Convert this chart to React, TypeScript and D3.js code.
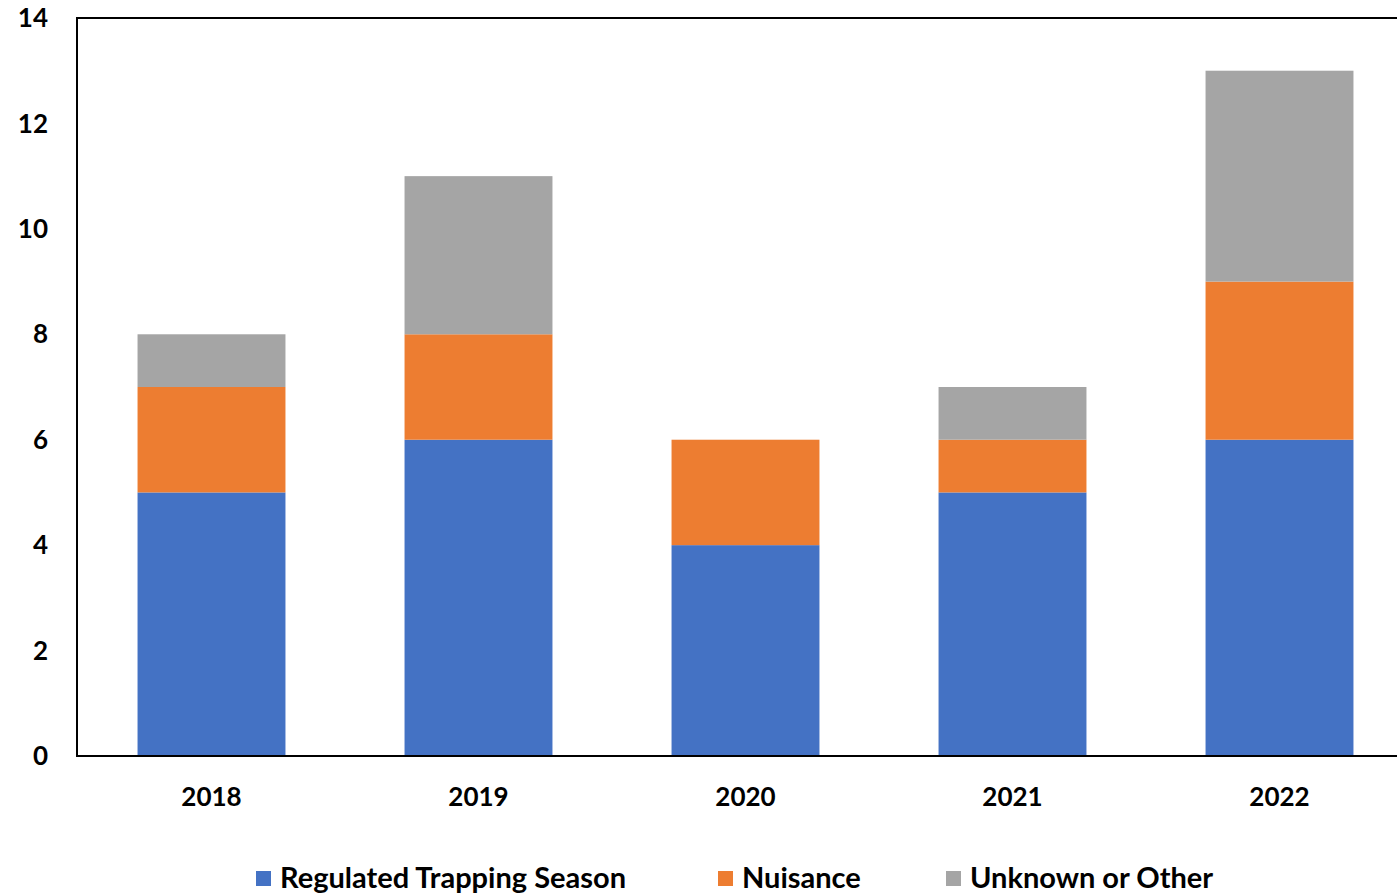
import React, { useEffect, useRef } from 'react';
import * as d3 from 'd3';

const years = ['2018', '2019', '2020', '2021', '2022'];
const regulated = [5, 6, 4, 5, 6];
const nuisance = [2, 2, 2, 1, 3];
const unknown = [1, 3, 0, 1, 4];
const seriesNames = ['Regulated Trapping Season', 'Nuisance', 'Unknown or Other'];
const seriesColors = ['#4472C4', '#ED7D31', '#A5A5A5'];
const yTicks = [0, 2, 4, 6, 8, 10, 12, 14];

const App = () => {
  const svgRef = useRef<SVGSVGElement | null>(null);
  const width = 1397, height = 895;

  useEffect(() => {
    const svg = d3.select(svgRef.current);
    svg.selectAll('*').remove();

    const left = 77, right = 1412, top = 18, bottom = 756;
    const font = 'Lato, "Open Sans", sans-serif';

    const x = d3.scaleBand().domain(years).range([left + 1, right + 1]).paddingInner(0.446).paddingOuter(0.223);
    const y = d3.scaleLinear().domain([0, 14]).range([bottom, top]);

    const rows = years.map((yr, i) => ({ year: yr, s0: regulated[i], s1: nuisance[i], s2: unknown[i] }));
    const stack = d3.stack<any>().keys(['s0', 's1', 's2'])(rows);

    stack.forEach((layer, k) => {
      svg.append('g')
        .selectAll('rect')
        .data(layer)
        .join('rect')
        .attr('x', d => x(d.data.year)!)
        .attr('width', x.bandwidth())
        .attr('y', d => y(d[1]))
        .attr('height', d => y(d[0]) - y(d[1]))
        .attr('fill', seriesColors[k]);
    });

    // frame
    svg.append('path')
      .attr('d', `M${right},${top}H${left}V${bottom}H${right}`)
      .attr('fill', 'none')
      .attr('stroke', '#000')
      .attr('stroke-width', 2);

    // y labels
    svg.append('g')
      .selectAll('text')
      .data(yTicks)
      .join('text')
      .attr('x', 48)
      .attr('y', d => y(d))
      .attr('dy', '0.35em')
      .attr('text-anchor', 'end')
      .style('font-family', font)
      .style('font-weight', 700)
      .style('font-size', '26px')
      .style('fill', '#000')
      .text(d => d);

    // x labels
    svg.append('g')
      .selectAll('text')
      .data(years)
      .join('text')
      .attr('x', d => x(d)! + x.bandwidth() / 2)
      .attr('y', 797)
      .attr('dy', '0.35em')
      .attr('text-anchor', 'middle')
      .style('font-family', font)
      .style('font-weight', 700)
      .style('font-size', '26px')
      .style('fill', '#000')
      .text(d => d);

    // legend
    const legendX = [256, 718, 946];
    const lg = svg.append('g');
    seriesNames.forEach((name, k) => {
      lg.append('rect')
        .attr('x', legendX[k])
        .attr('y', 871)
        .attr('width', 15)
        .attr('height', 15)
        .attr('fill', seriesColors[k]);
      lg.append('text')
        .attr('x', legendX[k] + 24)
        .attr('y', 878)
        .attr('dy', '0.35em')
        .style('font-family', font)
        .style('font-weight', 700)
        .style('font-size', '29px')
        .style('fill', '#000')
        .text(name);
    });
  }, []);

  return (
    <svg ref={svgRef} width={width} height={height}
      style={{ position: 'absolute', left: 0, top: 0, background: '#fff' }}></svg>
  );
};

export default App;
